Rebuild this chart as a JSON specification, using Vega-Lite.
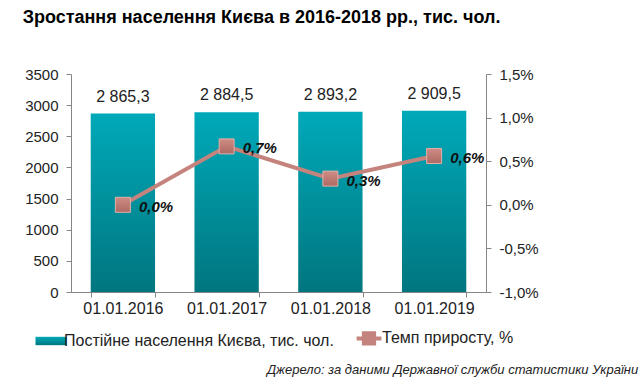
{
  "$schema": "https://vega.github.io/schema/vega-lite/v6.json",
  "padding": {"left": 22, "top": 9, "right": 5, "bottom": 3},
  "config": {
    "locale": {"number": {"decimal": ",", "thousands": " ", "grouping": [3], "currency": ["", ""], "minus": "-"}},
    "font": "Liberation Sans",
    "view": {"stroke": null},
    "axis": {"grid": false, "domainColor": "#868686", "tickColor": "#868686", "labelFont": "Liberation Sans", "labelFontSize": 15, "labelColor": "#222222", "tickSize": 5, "title": null},
    "legend": {"layout": {"bottom": {"anchor": "middle"}}}
  },
  "title": {
    "text": "Джерело: за даними Державної служби статистики України",
    "orient": "bottom", "anchor": "end", "fontSize": 13, "fontStyle": "italic", "fontWeight": "normal",
    "font": "Liberation Sans", "color": "#222222", "offset": 12, "dx": 100
  },
  "vconcat": [
    {
      "title": {"text": "Зростання населення Києва в 2016-2018 рр., тис. чол.", "anchor": "start", "fontSize": 18, "fontWeight": "bold", "font": "Liberation Sans", "color": "#000000", "offset": 40, "dx": -2},
      "width": 415,
      "height": 218,
      "data": {"values": [
        {"date": "01.01.2016", "pop": 2865.3, "growth": 0.0},
        {"date": "01.01.2017", "pop": 2884.5, "growth": 0.0067},
        {"date": "01.01.2018", "pop": 2893.2, "growth": 0.0030},
        {"date": "01.01.2019", "pop": 2909.5, "growth": 0.0056}
      ]},
      "resolve": {"scale": {"y": "independent"}},
      "encoding": {
        "x": {"field": "date", "type": "ordinal", "sort": null,
              "scale": {"paddingInner": 0.38, "paddingOuter": 0.19},
              "axis": {"labelAngle": 0, "tickBand": "extent", "labelPadding": 3, "labelFontSize": 16, "labelOverlap": false}}
      },
      "layer": [
        {
          "encoding": {
            "y": {"field": "pop", "type": "quantitative",
                  "scale": {"domain": [0, 3500], "nice": false},
                  "axis": {"orient": "left", "values": [0, 500, 1000, 1500, 2000, 2500, 3000, 3500], "format": "d", "labelPadding": 8}}
          },
          "layer": [
            {
              "mark": {"type": "bar",
                       "fill": {"gradient": "linear", "x1": 0, "y1": 0, "x2": 0, "y2": 1,
                                "stops": [{"offset": 0, "color": "#00a9b9"}, {"offset": 1, "color": "#00767f"}]}}
            },
            {
              "mark": {"type": "text", "baseline": "bottom", "dy": -9, "fontSize": 16, "font": "Liberation Sans", "color": "#222222"},
              "encoding": {"text": {"field": "pop", "type": "quantitative", "format": ",.1f"}}
            }
          ]
        },
        {
          "encoding": {
            "y": {"field": "growth", "type": "quantitative",
                  "scale": {"domain": [-0.01, 0.015], "nice": false},
                  "axis": {"orient": "right", "values": [-0.01, -0.005, 0, 0.005, 0.01, 0.015], "format": ".1%", "labelPadding": 8}}
          },
          "layer": [
            {
              "mark": {"type": "line", "strokeWidth": 4},
              "encoding": {
                "color": {
                  "datum": "Темп приросту, %", "type": "nominal",
                  "scale": {
                    "domain": ["Постійне населення Києва, тис. чол.", "Темп приросту, %"],
                    "range": ["#0090a0", "#c4837c"]
                  },
                  "legend": {
                    "orient": "bottom", "direction": "horizontal", "title": null,
                    "labelFont": "Liberation Sans", "labelFontSize": 16, "labelColor": "#222222",
                    "labelLimit": 400, "labelOffset": 5, "columnPadding": 14, "symbolSize": 961, "offset": 14,
                    "encode": {
                      "symbols": {
                        "update": {
                          "shape": {"signal": "datum.index === 1 ? 'M-0.8,0H0.8M-0.33,-0.33H0.33V0.33H-0.33Z' : 'M-1,-0.27H1V0.27H-1Z'"},
                          "strokeWidth": {"signal": "datum.index === 1 ? 4 : 0"},
                          "fill": {"signal": "datum.index === 1 ? '#c4837c' : {gradient: 'linear', x1: 0, y1: 0, x2: 0, y2: 1, stops: [{offset: 0, color: '#00a9b9'}, {offset: 1, color: '#00767f'}]}"},
                          "stroke": {"signal": "datum.index === 1 ? '#c4837c' : 'transparent'"},
                          "opacity": {"value": 1},
                          "fillOpacity": {"value": 1},
                          "strokeOpacity": {"value": 1}
                        }
                      }
                    }
                  }
                }
              }
            },
            {
              "mark": {"type": "point", "shape": "square", "filled": true, "size": 225, "opacity": 1,
                       "fill": {"gradient": "linear", "x1": 0, "y1": 0, "x2": 0, "y2": 1,
                                "stops": [{"offset": 0, "color": "#cf8b84"}, {"offset": 1, "color": "#ad6a64"}]},
                       "stroke": "#e2b0aa", "strokeWidth": 1}
            },
            {
              "mark": {"type": "text", "align": "left", "baseline": "middle", "dx": 16, "dy": 2, "fontSize": 15, "fontWeight": "bold", "fontStyle": "italic", "font": "Liberation Sans", "color": "#111111"},
              "encoding": {"text": {"field": "growth", "type": "quantitative", "format": ".1%"}}
            }
          ]
        }
      ]
    }
  ]
}
